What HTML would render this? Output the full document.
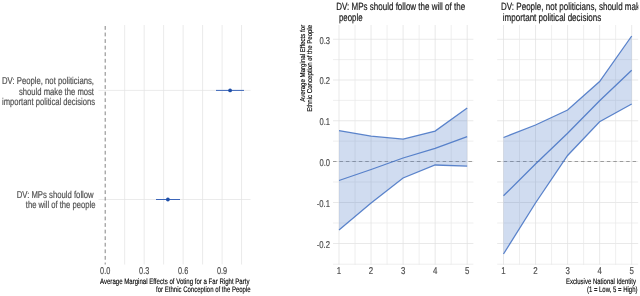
<!DOCTYPE html><html><head><meta charset="utf-8"><title>Figure</title><style>html,body{margin:0;padding:0;background:#fff;overflow:hidden;}svg{display:block;}text{font-family:"Liberation Sans",sans-serif;text-rendering:geometricPrecision;}.sh{filter:blur(0.35px);}.tx{filter:blur(0.25px);}</style></head><body>
<svg width="640" height="296" viewBox="0 0 640 296">
<defs><clipPath id="cs"><rect x="490" y="0" width="148.3" height="30"/></clipPath></defs>
<rect width="640" height="296" fill="#fff"/>
<g class="sh">
<line x1="124.68" y1="25.00" x2="124.68" y2="264.50" stroke="#e4e4e4" stroke-width="0.75"/>
<line x1="144.16" y1="25.00" x2="144.16" y2="264.50" stroke="#e4e4e4" stroke-width="0.75"/>
<line x1="163.64" y1="25.00" x2="163.64" y2="264.50" stroke="#e4e4e4" stroke-width="0.75"/>
<line x1="183.12" y1="25.00" x2="183.12" y2="264.50" stroke="#e4e4e4" stroke-width="0.75"/>
<line x1="202.60" y1="25.00" x2="202.60" y2="264.50" stroke="#e4e4e4" stroke-width="0.75"/>
<line x1="222.08" y1="25.00" x2="222.08" y2="264.50" stroke="#e4e4e4" stroke-width="0.75"/>
<line x1="241.56" y1="25.00" x2="241.56" y2="264.50" stroke="#e4e4e4" stroke-width="0.75"/>
<line x1="98.50" y1="90.40" x2="250.50" y2="90.40" stroke="#e4e4e4" stroke-width="0.75"/>
<line x1="98.50" y1="199.50" x2="250.50" y2="199.50" stroke="#e4e4e4" stroke-width="0.75"/>
<line x1="105.20" y1="26.00" x2="105.20" y2="264.50" stroke="#777" stroke-width="0.9" stroke-dasharray="3.8,2.77"/>
<line x1="216.00" y1="90.40" x2="244.00" y2="90.40" stroke="#3b65b9" stroke-width="1"/>
<circle cx="230.1" cy="90.4" r="1.9" fill="#1f4fa8"/>
<line x1="156.00" y1="199.50" x2="180.00" y2="199.50" stroke="#3b65b9" stroke-width="1"/>
<circle cx="167.9" cy="199.5" r="1.9" fill="#1f4fa8"/>
<line x1="333.00" y1="243.50" x2="473.40" y2="243.50" stroke="#e1e1e1" stroke-width="0.75"/>
<line x1="333.00" y1="223.00" x2="473.40" y2="223.00" stroke="#e9e9e9" stroke-width="0.75"/>
<line x1="333.00" y1="202.50" x2="473.40" y2="202.50" stroke="#e1e1e1" stroke-width="0.75"/>
<line x1="333.00" y1="182.00" x2="473.40" y2="182.00" stroke="#e9e9e9" stroke-width="0.75"/>
<line x1="333.00" y1="161.50" x2="473.40" y2="161.50" stroke="#e1e1e1" stroke-width="0.75"/>
<line x1="333.00" y1="141.12" x2="473.40" y2="141.12" stroke="#e9e9e9" stroke-width="0.75"/>
<line x1="333.00" y1="120.75" x2="473.40" y2="120.75" stroke="#e1e1e1" stroke-width="0.75"/>
<line x1="333.00" y1="100.38" x2="473.40" y2="100.38" stroke="#e9e9e9" stroke-width="0.75"/>
<line x1="333.00" y1="80.00" x2="473.40" y2="80.00" stroke="#e1e1e1" stroke-width="0.75"/>
<line x1="333.00" y1="59.62" x2="473.40" y2="59.62" stroke="#e9e9e9" stroke-width="0.75"/>
<line x1="333.00" y1="39.25" x2="473.40" y2="39.25" stroke="#e1e1e1" stroke-width="0.75"/>
<line x1="333.00" y1="264.20" x2="473.40" y2="264.20" stroke="#e9e9e9" stroke-width="0.75"/>
<line x1="339.00" y1="25.00" x2="339.00" y2="264.80" stroke="#e1e1e1" stroke-width="0.75"/>
<line x1="355.02" y1="25.00" x2="355.02" y2="264.80" stroke="#e9e9e9" stroke-width="0.75"/>
<line x1="371.05" y1="25.00" x2="371.05" y2="264.80" stroke="#e1e1e1" stroke-width="0.75"/>
<line x1="387.07" y1="25.00" x2="387.07" y2="264.80" stroke="#e9e9e9" stroke-width="0.75"/>
<line x1="403.10" y1="25.00" x2="403.10" y2="264.80" stroke="#e1e1e1" stroke-width="0.75"/>
<line x1="419.12" y1="25.00" x2="419.12" y2="264.80" stroke="#e9e9e9" stroke-width="0.75"/>
<line x1="435.15" y1="25.00" x2="435.15" y2="264.80" stroke="#e1e1e1" stroke-width="0.75"/>
<line x1="451.17" y1="25.00" x2="451.17" y2="264.80" stroke="#e9e9e9" stroke-width="0.75"/>
<line x1="467.20" y1="25.00" x2="467.20" y2="264.80" stroke="#e1e1e1" stroke-width="0.75"/>
<line x1="333.00" y1="161.50" x2="473.40" y2="161.50" stroke="#8c8c8c" stroke-width="0.85" stroke-dasharray="3.5,2.95"/>
<polygon points="339.0,130.6 371.1,136.2 403.1,139.2 435.1,131.1 467.2,108.0 467.2,166.2 435.1,165.0 403.1,178.0 371.1,203.0 339.0,230.0" fill="#4472c4" fill-opacity="0.25"/>
<polyline points="339.0,130.6 371.1,136.2 403.1,139.2 435.1,131.1 467.2,108.0" fill="none" stroke="#4472c4" stroke-width="1.3" stroke-opacity="0.86"/>
<polyline points="339.0,180.5 371.1,169.5 403.1,158.0 435.1,148.4 467.2,136.7" fill="none" stroke="#4472c4" stroke-width="1.3" stroke-opacity="0.86"/>
<polyline points="339.0,230.0 371.1,203.0 403.1,178.0 435.1,165.0 467.2,166.2" fill="none" stroke="#4472c4" stroke-width="1.3" stroke-opacity="0.86"/>
<line x1="497.20" y1="243.50" x2="638.20" y2="243.50" stroke="#e1e1e1" stroke-width="0.75"/>
<line x1="497.20" y1="223.00" x2="638.20" y2="223.00" stroke="#e9e9e9" stroke-width="0.75"/>
<line x1="497.20" y1="202.50" x2="638.20" y2="202.50" stroke="#e1e1e1" stroke-width="0.75"/>
<line x1="497.20" y1="182.00" x2="638.20" y2="182.00" stroke="#e9e9e9" stroke-width="0.75"/>
<line x1="497.20" y1="161.50" x2="638.20" y2="161.50" stroke="#e1e1e1" stroke-width="0.75"/>
<line x1="497.20" y1="141.12" x2="638.20" y2="141.12" stroke="#e9e9e9" stroke-width="0.75"/>
<line x1="497.20" y1="120.75" x2="638.20" y2="120.75" stroke="#e1e1e1" stroke-width="0.75"/>
<line x1="497.20" y1="100.38" x2="638.20" y2="100.38" stroke="#e9e9e9" stroke-width="0.75"/>
<line x1="497.20" y1="80.00" x2="638.20" y2="80.00" stroke="#e1e1e1" stroke-width="0.75"/>
<line x1="497.20" y1="59.62" x2="638.20" y2="59.62" stroke="#e9e9e9" stroke-width="0.75"/>
<line x1="497.20" y1="39.25" x2="638.20" y2="39.25" stroke="#e1e1e1" stroke-width="0.75"/>
<line x1="497.20" y1="264.20" x2="638.20" y2="264.20" stroke="#e9e9e9" stroke-width="0.75"/>
<line x1="503.50" y1="25.00" x2="503.50" y2="264.80" stroke="#e1e1e1" stroke-width="0.75"/>
<line x1="519.52" y1="25.00" x2="519.52" y2="264.80" stroke="#e9e9e9" stroke-width="0.75"/>
<line x1="535.55" y1="25.00" x2="535.55" y2="264.80" stroke="#e1e1e1" stroke-width="0.75"/>
<line x1="551.58" y1="25.00" x2="551.58" y2="264.80" stroke="#e9e9e9" stroke-width="0.75"/>
<line x1="567.60" y1="25.00" x2="567.60" y2="264.80" stroke="#e1e1e1" stroke-width="0.75"/>
<line x1="583.62" y1="25.00" x2="583.62" y2="264.80" stroke="#e9e9e9" stroke-width="0.75"/>
<line x1="599.65" y1="25.00" x2="599.65" y2="264.80" stroke="#e1e1e1" stroke-width="0.75"/>
<line x1="615.67" y1="25.00" x2="615.67" y2="264.80" stroke="#e9e9e9" stroke-width="0.75"/>
<line x1="631.70" y1="25.00" x2="631.70" y2="264.80" stroke="#e1e1e1" stroke-width="0.75"/>
<line x1="497.20" y1="161.50" x2="638.20" y2="161.50" stroke="#8c8c8c" stroke-width="0.85" stroke-dasharray="3.5,2.95"/>
<polygon points="503.5,137.5 535.5,125.0 567.6,110.0 599.6,81.5 631.7,36.0 631.7,104.0 599.6,121.7 567.6,155.5 535.5,203.0 503.5,254.0" fill="#4472c4" fill-opacity="0.25"/>
<polyline points="503.5,137.5 535.5,125.0 567.6,110.0 599.6,81.5 631.7,36.0" fill="none" stroke="#4472c4" stroke-width="1.3" stroke-opacity="0.86"/>
<polyline points="503.5,195.8 535.5,164.0 567.6,133.3 599.6,100.8 631.7,70.2" fill="none" stroke="#4472c4" stroke-width="1.3" stroke-opacity="0.86"/>
<polyline points="503.5,254.0 535.5,203.0 567.6,155.5 599.6,121.7 631.7,104.0" fill="none" stroke="#4472c4" stroke-width="1.3" stroke-opacity="0.86"/>
</g>
<g class="tx">
<text x="94" y="83.5" font-size="10" text-anchor="end" textLength="92" lengthAdjust="spacingAndGlyphs" fill="#4d4d4d" stroke="#4d4d4d" stroke-width="0.18">DV: People, not politicians,</text>
<text x="94" y="94.5" font-size="10" text-anchor="end" textLength="75" lengthAdjust="spacingAndGlyphs" fill="#4d4d4d" stroke="#4d4d4d" stroke-width="0.18">should make the most</text>
<text x="95" y="105" font-size="10" text-anchor="end" textLength="93" lengthAdjust="spacingAndGlyphs" fill="#4d4d4d" stroke="#4d4d4d" stroke-width="0.18">important political decisions</text>
<text x="93.7" y="198.2" font-size="10" text-anchor="end" textLength="77" lengthAdjust="spacingAndGlyphs" fill="#4d4d4d" stroke="#4d4d4d" stroke-width="0.18">DV: MPs should follow</text>
<text x="95.4" y="207.8" font-size="10" text-anchor="end" textLength="69.6" lengthAdjust="spacingAndGlyphs" fill="#4d4d4d" stroke="#4d4d4d" stroke-width="0.18">the will of the people</text>
<text x="105.2" y="274.2" font-size="9.9" text-anchor="middle" textLength="10.2" lengthAdjust="spacingAndGlyphs" fill="#4d4d4d" stroke="#4d4d4d" stroke-width="0.18">0.0</text>
<text x="144.16" y="274.2" font-size="9.9" text-anchor="middle" textLength="10.2" lengthAdjust="spacingAndGlyphs" fill="#4d4d4d" stroke="#4d4d4d" stroke-width="0.18">0.3</text>
<text x="183.12" y="274.2" font-size="9.9" text-anchor="middle" textLength="10.2" lengthAdjust="spacingAndGlyphs" fill="#4d4d4d" stroke="#4d4d4d" stroke-width="0.18">0.6</text>
<text x="222.08" y="274.2" font-size="9.9" text-anchor="middle" textLength="10.2" lengthAdjust="spacingAndGlyphs" fill="#4d4d4d" stroke="#4d4d4d" stroke-width="0.18">0.9</text>
<text x="249.5" y="284.2" font-size="8" text-anchor="end" textLength="149.5" lengthAdjust="spacingAndGlyphs" fill="#000" stroke="#000" stroke-width="0.14">Average Marginal Effects of Voting for a Far Right Party</text>
<text x="250.6" y="291.8" font-size="8" text-anchor="end" textLength="94.5" lengthAdjust="spacingAndGlyphs" fill="#000" stroke="#000" stroke-width="0.14">for Ethnic Conception of the People</text>
<text x="339.0" y="274.2" font-size="9.9" text-anchor="middle" textLength="4.4" lengthAdjust="spacingAndGlyphs" fill="#4d4d4d" stroke="#4d4d4d" stroke-width="0.18">1</text>
<text x="371.05" y="274.2" font-size="9.9" text-anchor="middle" textLength="4.4" lengthAdjust="spacingAndGlyphs" fill="#4d4d4d" stroke="#4d4d4d" stroke-width="0.18">2</text>
<text x="403.1" y="274.2" font-size="9.9" text-anchor="middle" textLength="4.4" lengthAdjust="spacingAndGlyphs" fill="#4d4d4d" stroke="#4d4d4d" stroke-width="0.18">3</text>
<text x="435.15" y="274.2" font-size="9.9" text-anchor="middle" textLength="4.4" lengthAdjust="spacingAndGlyphs" fill="#4d4d4d" stroke="#4d4d4d" stroke-width="0.18">4</text>
<text x="467.2" y="274.2" font-size="9.9" text-anchor="middle" textLength="4.4" lengthAdjust="spacingAndGlyphs" fill="#4d4d4d" stroke="#4d4d4d" stroke-width="0.18">5</text>
<text x="503.5" y="274.2" font-size="9.9" text-anchor="middle" textLength="4.4" lengthAdjust="spacingAndGlyphs" fill="#4d4d4d" stroke="#4d4d4d" stroke-width="0.18">1</text>
<text x="535.55" y="274.2" font-size="9.9" text-anchor="middle" textLength="4.4" lengthAdjust="spacingAndGlyphs" fill="#4d4d4d" stroke="#4d4d4d" stroke-width="0.18">2</text>
<text x="567.6" y="274.2" font-size="9.9" text-anchor="middle" textLength="4.4" lengthAdjust="spacingAndGlyphs" fill="#4d4d4d" stroke="#4d4d4d" stroke-width="0.18">3</text>
<text x="599.65" y="274.2" font-size="9.9" text-anchor="middle" textLength="4.4" lengthAdjust="spacingAndGlyphs" fill="#4d4d4d" stroke="#4d4d4d" stroke-width="0.18">4</text>
<text x="631.7" y="274.2" font-size="9.9" text-anchor="middle" textLength="4.4" lengthAdjust="spacingAndGlyphs" fill="#4d4d4d" stroke="#4d4d4d" stroke-width="0.18">5</text>
<text x="330" y="43.55" font-size="9.9" text-anchor="end" textLength="10.6" lengthAdjust="spacingAndGlyphs" fill="#4d4d4d" stroke="#4d4d4d" stroke-width="0.18">0.3</text>
<text x="330" y="84.3" font-size="9.9" text-anchor="end" textLength="10.6" lengthAdjust="spacingAndGlyphs" fill="#4d4d4d" stroke="#4d4d4d" stroke-width="0.18">0.2</text>
<text x="330" y="125.05" font-size="9.9" text-anchor="end" textLength="10.6" lengthAdjust="spacingAndGlyphs" fill="#4d4d4d" stroke="#4d4d4d" stroke-width="0.18">0.1</text>
<text x="330" y="165.8" font-size="9.9" text-anchor="end" textLength="10.6" lengthAdjust="spacingAndGlyphs" fill="#4d4d4d" stroke="#4d4d4d" stroke-width="0.18">0.0</text>
<text x="330" y="206.8" font-size="9.9" text-anchor="end" textLength="13.3" lengthAdjust="spacingAndGlyphs" fill="#4d4d4d" stroke="#4d4d4d" stroke-width="0.18">-0.1</text>
<text x="330" y="247.8" font-size="9.9" text-anchor="end" textLength="13.3" lengthAdjust="spacingAndGlyphs" fill="#4d4d4d" stroke="#4d4d4d" stroke-width="0.18">-0.2</text>
<text x="336.2" y="10.1" font-size="10.5" text-anchor="start" textLength="129" lengthAdjust="spacingAndGlyphs" fill="#1a1a1a" stroke="#1a1a1a" stroke-width="0.2">DV: MPs should follow the will of the</text>
<text x="339" y="20.6" font-size="10.5" text-anchor="start" textLength="23.5" lengthAdjust="spacingAndGlyphs" fill="#1a1a1a" stroke="#1a1a1a" stroke-width="0.2">people</text>
<g clip-path="url(#cs)">
<text x="501" y="10.1" font-size="10.5" text-anchor="start" textLength="176.5" lengthAdjust="spacingAndGlyphs" fill="#1a1a1a" stroke="#1a1a1a" stroke-width="0.2">DV: People, not politicians, should make the most</text>
</g>
<text x="502.8" y="20.6" font-size="10.5" text-anchor="start" textLength="98.4" lengthAdjust="spacingAndGlyphs" fill="#1a1a1a" stroke="#1a1a1a" stroke-width="0.2">important political decisions</text>
<text x="635.9" y="284.4" font-size="8" text-anchor="end" textLength="70" lengthAdjust="spacingAndGlyphs" fill="#000" stroke="#000" stroke-width="0.14">Exclusive National Identity</text>
<text x="637.5" y="291.8" font-size="8" text-anchor="end" textLength="50.6" lengthAdjust="spacingAndGlyphs" fill="#000" stroke="#000" stroke-width="0.14">(1 = Low, 5 = High)</text>
<text transform="translate(305.2,24.8) rotate(-90)" font-size="7" text-anchor="end" textLength="77" lengthAdjust="spacingAndGlyphs" fill="#000" stroke="#000" stroke-width="0.14">Average Marginal Effects for</text>
<text transform="translate(312.3,24.8) rotate(-90)" font-size="7" text-anchor="end" textLength="87" lengthAdjust="spacingAndGlyphs" fill="#000" stroke="#000" stroke-width="0.14">Ethnic Conception of the People</text>
</g>
</svg></body></html>
